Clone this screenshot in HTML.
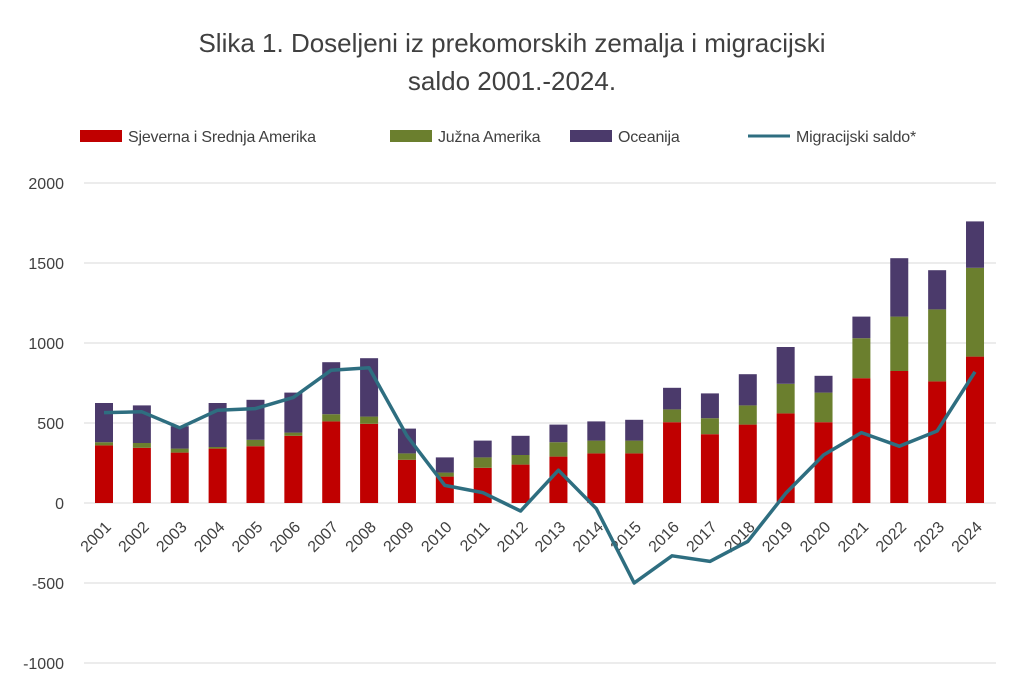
<!DOCTYPE html>
<html><head><meta charset="utf-8"><style>
body{margin:0;background:#fff;}
svg{display:block;font-family:"Liberation Sans",sans-serif;}
</style></head><body>
<svg width="1024" height="692" viewBox="0 0 1024 692">
<text x="512" y="52" font-size="26" text-anchor="middle" fill="#404040">Slika 1. Doseljeni iz prekomorskih zemalja i migracijski</text>
<text x="512" y="90" font-size="26" text-anchor="middle" fill="#404040">saldo 2001.-2024.</text>
<g font-size="16" fill="#404040" letter-spacing="-0.2">
<rect x="80" y="130" width="42" height="12" fill="#c00000"/><text x="128" y="142">Sjeverna i Srednja Amerika</text>
<rect x="390" y="130" width="42" height="12" fill="#6b7f2e"/><text x="438" y="142">Južna Amerika</text>
<rect x="570" y="130" width="42" height="12" fill="#4b3a6b"/><text x="618" y="142">Oceanija</text>
<line x1="748" y1="136" x2="790" y2="136" stroke="#2e6e80" stroke-width="3"/><text x="796" y="142">Migracijski saldo*</text>
</g>
<g stroke="#d9d9d9" stroke-width="1">
<line x1="84" y1="183" x2="996" y2="183"/><line x1="84" y1="263" x2="996" y2="263"/>
<line x1="84" y1="343" x2="996" y2="343"/><line x1="84" y1="423" x2="996" y2="423"/>
<line x1="84" y1="503" x2="996" y2="503"/><line x1="84" y1="583" x2="996" y2="583"/>
<line x1="84" y1="663" x2="996" y2="663"/>
</g>
<g font-size="16" fill="#404040" text-anchor="end">
<text x="64" y="189">2000</text><text x="64" y="269">1500</text><text x="64" y="349">1000</text>
<text x="64" y="429">500</text><text x="64" y="509">0</text><text x="64" y="589">-500</text><text x="64" y="669">-1000</text>
</g>
<g id="bars"></g>
<g id="lbl" font-size="16" fill="#404040"></g>
<polyline id="ln" fill="none" stroke="#2e6e80" stroke-width="3.5" stroke-linejoin="round"/>
</svg>
<script>
var d=[[360,380,625,565],[345,375,610,570],[315,340,480,470],[340,350,625,580],[355,395,645,590],[420,440,690,660],[510,555,880,830],[495,540,905,845],[270,310,465,420],[165,190,285,110],[220,285,390,65],[240,300,420,-50],[290,380,490,205],[310,390,510,-35],[310,390,520,-500],[505,585,720,-330],[430,530,685,-365],[490,610,805,-240],[560,745,975,60],[505,690,795,300],[780,1030,1165,440],[825,1165,1530,355],[760,1210,1455,450],[915,1470,1760,820]];
var ns="http://www.w3.org/2000/svg",b=document.getElementById('bars'),l=document.getElementById('lbl'),pts=[];
function Y(v){return 503-v*0.16;}
function r(x,y0,y1,c){var e=document.createElementNS(ns,'rect');e.setAttribute('x',x-9);e.setAttribute('y',Y(y1));e.setAttribute('width',18);e.setAttribute('height',Y(y0)-Y(y1));e.setAttribute('fill',c);b.appendChild(e);}
d.forEach(function(a,i){var x=104+i*37.87;r(x,0,a[0],'#c00000');r(x,a[0],a[1],'#6b7f2e');r(x,a[1],a[2],'#4b3a6b');pts.push(x+','+Y(a[3]));
var t=document.createElementNS(ns,'text');t.setAttribute('transform','translate('+(x+8)+',528) rotate(-45)');t.setAttribute('text-anchor','end');t.textContent=2001+i;l.appendChild(t);});
document.getElementById('ln').setAttribute('points',pts.join(' '));
</script>
</body></html>
